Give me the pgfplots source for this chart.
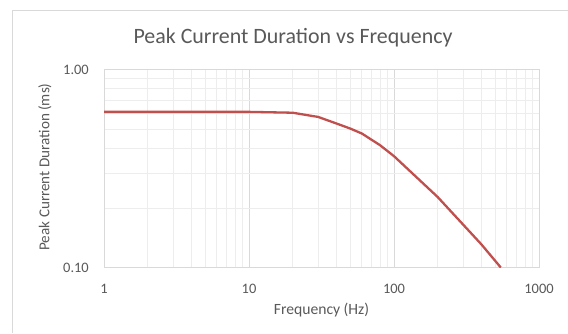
\documentclass[border=0pt]{standalone}
\usepackage{pgfplots}
\pgfplotsset{compat=1.18}
\usepackage{fontspec}
\setmainfont{Carlito}
\definecolor{txt}{HTML}{595959}
\definecolor{majgrid}{HTML}{D9D9D9}
\definecolor{mingrid}{HTML}{EDEDED}
\definecolor{serie}{HTML}{C0504D}
\begin{document}
\begin{tikzpicture}[x=1bp,y=1bp]
\useasboundingbox (0,0) rectangle (568,333);
\draw[majgrid, line width=0.8bp] (12.7,0) -- (12.7,323) -- (568,323);
\begin{axis}[
  at={(104bp,65.5bp)}, anchor=south west,
  scale only axis, width=435bp, height=198bp,
  xmode=log, ymode=log,
  xmin=1, xmax=1000, ymin=0.1, ymax=1,
  xtick={1,10,100,1000}, xticklabels={1,10,100,1000},
  ytick={0.1,1}, yticklabels={0.10,1.00},
  minor xtick={2,3,4,5,6,7,8,9,20,30,40,50,60,70,80,90,200,300,400,500,600,700,800,900},
  minor ytick={0.2,0.3,0.4,0.5,0.6,0.7,0.8,0.9},
  grid=both,
  major grid style={majgrid, line width=0.8bp},
  minor grid style={mingrid, line width=0.8bp},
  axis line style={majgrid, line width=0.8bp},
  major tick length=0pt, minor tick length=0pt,
  xticklabel style={font=\fontsize{14.5}{16}\selectfont, text=txt, inner sep=0pt, anchor=north, yshift=-16bp},
  yticklabel style={font=\fontsize{14.5}{16}\selectfont, text=txt, inner sep=0pt, anchor=east, xshift=-15bp},
  clip=true,
]
\addplot[serie, line width=2.3bp, line join=round] coordinates {
(1,0.611) (2,0.611) (5,0.611) (10,0.611) (20,0.605) (30,0.576) (40,0.534) (50,0.503) (60,0.475) (80,0.415) (100,0.365) (200,0.227) (400,0.131) (545,0.1)
};
\end{axis}
\node[text=txt, font=\fontsize{22}{26}\selectfont] at (293,295) {Peak Current Duration vs Frequency};
\node[text=txt, font=\fontsize{15.7}{18}\selectfont] at (321.5,23) {Frequency (Hz)};
\node[text=txt, font=\fontsize{15.2}{18}\selectfont, rotate=90] at (45,166) {Peak Current Duration (ms)};
\end{tikzpicture}
\end{document}
